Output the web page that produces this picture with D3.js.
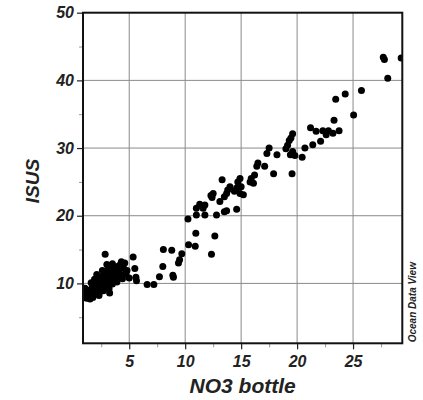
<!DOCTYPE html>
<html>
<head>
<meta charset="utf-8">
<script src="https://cdn.jsdelivr.net/npm/d3@7/dist/d3.min.js"></script>
<style>
html,body{margin:0;padding:0;background:#fff;}
svg{display:block;}
text{font-family:"Liberation Sans",Arial,sans-serif;}
</style>
</head>
<body>
<svg id="chart" width="423" height="400"></svg>
<script>
// ---- data ----
const no3Bottle = [
 1.0,1.05,1.2,1.3,1.4,1.5,1.6,1.7,1.75,1.85,1.9,2.0,2.05,2.1,2.2,2.25,2.3,2.35,2.4,2.45,
 2.5,2.55,2.6,2.65,2.7,2.75,2.8,2.85,2.9,2.95,3.0,3.05,3.1,3.15,3.2,3.25,3.3,3.35,3.4,3.45,
 3.5,3.55,3.6,3.65,3.7,3.75,3.8,3.9,3.95,4.0,4.1,4.2,4.3,4.4,4.5,4.6,4.7,4.8,5.0,5.35,
 5.5,5.6,5.65,
 1.6,1.9,2.1,2.6,3.0,3.5,4.0,3.2,2.4,1.8,4.3,3.9,
 6.6,7.2,7.7,8.0,8.05,8.8,8.9,8.95,9.4,9.5,9.7,10.25,10.3,10.95,10.9,11.0,11.0,11.3,11.6,11.76,
 11.76,12.3,12.4,12.35,12.5,12.65,12.8,13.1,13.3,13.5,13.7,13.8,14.0,13.7,13.5,14.4,14.6,14.6,14.7,14.9,
 15.0,14.9,15.2,15.8,15.9,16.1,16.2,16.4,16.5,17.1,17.3,17.5,17.9,18.2,19.0,19.15,19.3,19.45,19.6,19.55,
 19.4,19.6,19.8,20.45,20.7,21.2,21.4,21.7,22.1,22.3,22.6,22.8,23.2,23.75,23.3,23.45,24.3,25.05,25.75,27.7,
 27.8,28.1,29.3
];
const isus = [
 8.6,9.3,7.8,8.3,9.0,7.7,8.8,9.4,7.9,8.4,9.8,9.1,10.2,8.6,9.6,10.5,8.2,9.9,10.8,9.3,
 10.1,11.0,9.7,10.4,8.9,11.2,10.0,14.3,10.7,9.4,11.5,10.3,12.1,9.8,10.9,8.6,11.6,12.6,10.5,11.1,
 9.9,12.0,11.4,10.7,12.4,11.0,10.3,11.8,12.5,10.9,11.5,12.8,11.2,10.7,12.2,13.0,11.4,11.9,10.8,13.9,
 12.2,10.9,10.4,
 10.1,10.6,11.3,11.9,12.8,12.9,12.2,9.2,8.8,9.2,13.2,10.2,
 9.85,9.85,11.0,12.5,15.0,14.9,11.2,10.9,13.0,13.5,14.4,19.5,15.7,17.4,15.5,20.1,21.1,21.7,21.1,21.6,
 20.1,23.0,22.7,14.3,23.3,17.0,20.1,22.1,25.3,22.8,23.3,23.8,24.3,20.75,20.6,23.6,24.1,20.95,25.0,25.5,
 24.3,23.3,23.1,25.0,25.5,24.8,26.0,27.3,27.8,27.3,29.2,30.0,26.2,29.0,29.9,30.4,31.1,31.5,32.1,26.2,
 29.0,29.5,28.9,28.65,30.0,33.0,30.5,32.5,31.0,32.55,31.95,32.55,32.2,32.55,34.1,37.2,38.0,34.9,38.5,43.4,
 43.1,40.3,43.3
];
const xTicks = [5, 10, 15, 20, 25];
const xMinor = [2.5, 7.5, 12.5, 17.5, 22.5, 27.5];
const yTicks = [10, 20, 30, 40, 50];
const yMinor = [5, 15, 25, 35, 45];
const xTitle = "NO3 bottle";
const yTitle = "ISUS";
const credit = "Ocean Data View";

// ---- layout ----
const L = 83, R = 402.3, T = 12.7, B = 343.3;
const svg = d3.select("#chart");
const x = d3.scaleLinear().domain([0.87, 29.4]).range([L, R]);
const y = d3.scaleLinear().domain([1.15, 50]).range([B, T]);

svg.append("rect").attr("width",423).attr("height",400).attr("fill","#fff");

// grid
const grid = svg.append("g");
grid.selectAll(".gx").data(xTicks).join("line")
  .attr("x1",d=>x(d)).attr("x2",d=>x(d)).attr("y1",T).attr("y2",B)
  .attr("stroke","#8a8a8a").attr("stroke-width",1);
grid.selectAll(".gy").data(yTicks.filter(d=>d<50)).join("line")
  .attr("y1",d=>y(d)).attr("y2",d=>y(d)).attr("x1",L).attr("x2",R)
  .attr("stroke","#8a8a8a").attr("stroke-width",1);

// axes
const fmt = d3.format("d");
const xAxis = svg.append("g").attr("transform",`translate(0,${B})`)
  .call(d3.axisBottom(x).tickValues(xTicks).tickSize(6).tickFormat(fmt));
const xAxisMinor = svg.append("g").attr("transform",`translate(0,${B})`)
  .call(d3.axisBottom(x).tickValues(xMinor).tickSize(4).tickFormat(""));
const yAxis = svg.append("g").attr("transform",`translate(${L},0)`)
  .call(d3.axisLeft(y).tickValues(yTicks).tickSize(6).tickFormat(fmt));
const yAxisMinor = svg.append("g").attr("transform",`translate(${L},0)`)
  .call(d3.axisLeft(y).tickValues(yMinor).tickSize(4).tickFormat(""));
[xAxis,xAxisMinor,yAxis,yAxisMinor].forEach(g=>g.select(".domain").remove());
[xAxis,yAxis].forEach(g=>g.selectAll(".tick line").attr("stroke","#222").attr("stroke-width",1.2));
[xAxisMinor,yAxisMinor].forEach(g=>g.selectAll(".tick line").attr("stroke","#999").attr("stroke-width",1));
xAxis.selectAll(".tick text").attr("font-size",16).attr("font-weight","bold").attr("font-style","italic")
  .attr("fill","#222").attr("dy","0.71em").attr("y",12).attr("font-family","Liberation Sans, Arial, sans-serif");
yAxis.selectAll(".tick text").attr("font-size",16).attr("font-weight","bold").attr("font-style","italic")
  .attr("fill","#222").attr("x",-9).attr("font-family","Liberation Sans, Arial, sans-serif");

// points
svg.append("clipPath").attr("id","clip").append("rect")
  .attr("x",L).attr("y",T).attr("width",R-L).attr("height",B-T);
svg.append("g").attr("clip-path","url(#clip)")
  .selectAll("circle").data(no3Bottle.map((v,i)=>[v,isus[i]])).join("circle")
  .attr("cx",d=>x(d[0])).attr("cy",d=>y(d[1])).attr("r",3.5).attr("fill","#000");

// frame
svg.append("rect").attr("x",L).attr("y",T).attr("width",R-L).attr("height",B-T)
  .attr("fill","none").attr("stroke","#111").attr("stroke-width",2);

// titles
svg.append("text").attr("x",(L+R)/2).attr("y",393).attr("text-anchor","middle")
  .attr("font-size",21).attr("font-weight","bold").attr("font-style","italic").attr("fill","#222")
  .text(xTitle);
svg.append("text").attr("transform",`translate(39,181) rotate(-90)`).attr("text-anchor","middle")
  .attr("font-size",19).attr("font-weight","bold").attr("font-style","italic").attr("fill","#222")
  .text(yTitle);
svg.append("text").attr("transform",`translate(416,${B-1}) rotate(-90)`).attr("text-anchor","start")
  .attr("font-size",10).attr("font-weight","bold").attr("font-style","italic").attr("fill","#222")
  .text(credit);
</script>
</body>
</html>
